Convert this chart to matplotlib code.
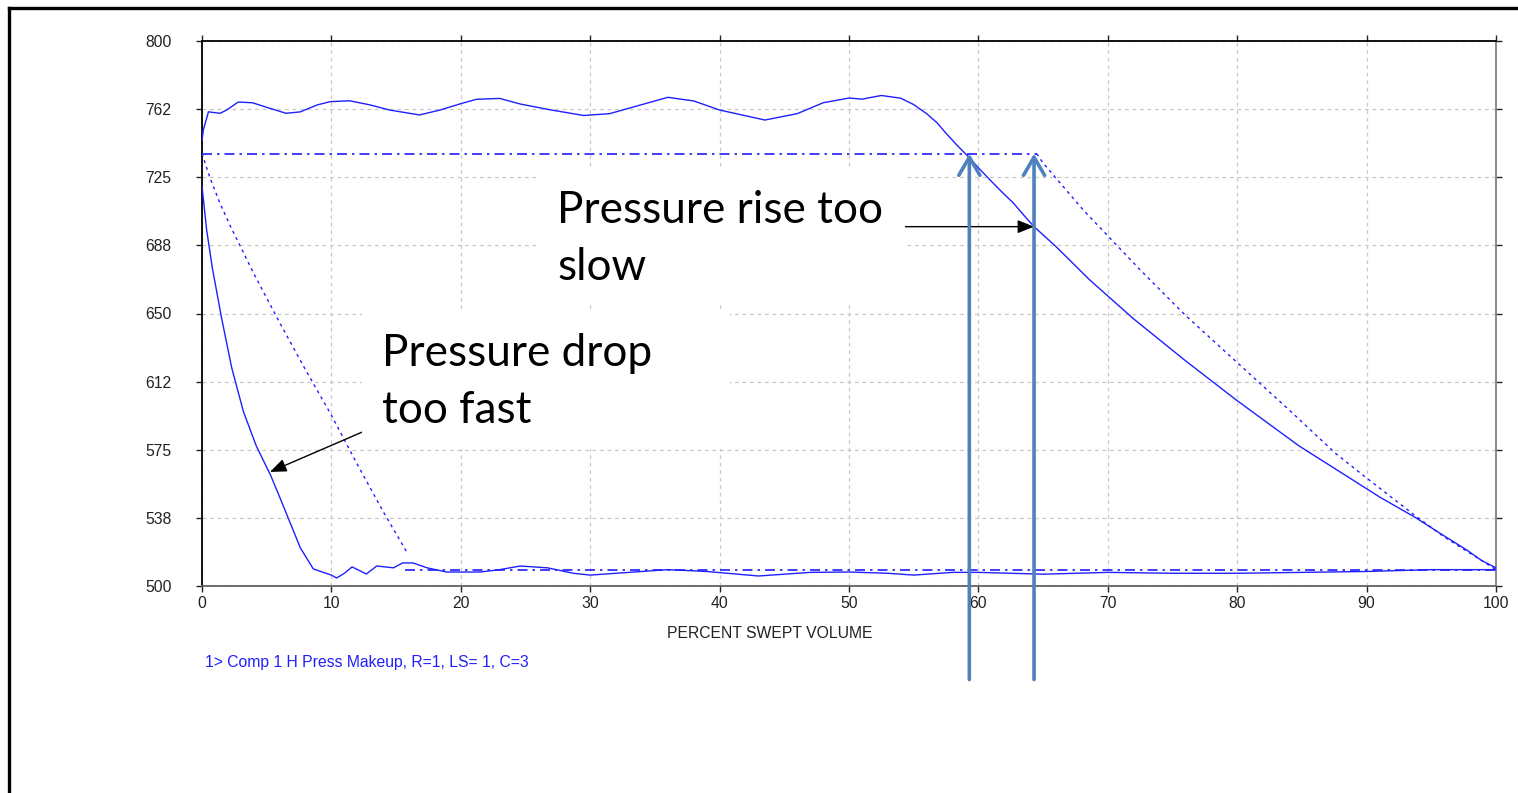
import matplotlib
matplotlib.use("Agg")
import matplotlib.pyplot as plt
from matplotlib.patches import Rectangle
from matplotlib.lines import Line2D

# ---------------- data ----------------
upper_x = [0, 0.1, 0.5, 1.4, 1.9, 2.8, 3.9, 5.0, 6.5, 7.6, 8.9, 9.9, 11.4, 13.0, 14.5,
           16.8, 18.4, 19.9, 21.2, 23.0, 24.6, 27.0, 29.5, 31.5, 33.5, 36.0, 38.0, 40.0,
           43.5, 46.0, 48.0, 50.0, 51.0, 52.5, 54.0, 55.0, 56.0, 56.8, 57.5, 58.3, 59.1,
           60.0, 60.9, 61.8, 62.7, 63.5, 64.3, 66.0, 68.6, 72.0, 76.0, 80.0, 84.8, 89.9,
           91.0, 93.7, 95.9, 97.7, 98.9, 100]
upper_y = [745, 751, 761, 760.2, 762, 766.4, 766, 763.5, 760.2, 761, 764.8, 766.6, 767.1,
           764.8, 762, 759.3, 762, 765.3, 767.9, 768.4, 765.3, 762, 759, 760, 764, 769, 767,
           762, 756.5, 760, 766, 768.6, 768, 770, 768.5, 765, 760, 755, 749.2, 743, 737.2,
           730.2, 723.5, 717, 710.8, 704.2, 697.8, 686.8, 668.5, 647, 624, 602, 577, 554,
           549, 538, 528, 520, 514, 510]

lower_x = [0, 0.36, 0.8, 1.5, 2.3, 3.2, 4.2, 5.3, 6.0, 6.8, 7.6, 8.6, 10.0, 10.4, 11.0,
           11.6, 12.7, 13.5, 14.8, 15.5, 16.3, 17.4, 18.9, 21.5, 23.0, 24.6, 26.7, 28.7,
           30.0, 33.0, 36.0, 39.0, 43.0, 47.0, 50.0, 53.0, 55.0, 58.0, 60.0, 65.0, 70.0,
           75.0, 80.0, 85.0, 90.0, 95.0, 100]
lower_y = [720, 696, 675, 648, 620, 596, 577, 561, 549, 535, 521, 509.4, 506, 504.4, 507,
           510.5, 506.6, 511, 510, 512.7, 512.7, 510, 507.7, 507.7, 509, 511, 510, 507,
           506, 507.5, 509, 508, 505.5, 507.5, 507.7, 507, 506, 507.5, 507.5, 506.5, 507.5,
           507, 507, 507.5, 508, 509, 509]

ideal_exp_x = [0, 0.6, 1.4, 2.2, 4.0, 6.0, 8.0, 10.0, 12.0, 14.0, 15.8]
ideal_exp_y = [738, 725, 710.5, 698, 672, 645, 619, 594, 567, 541, 519]

ideal_cmp_x = [64.5, 65.0, 68.1, 72.5, 76.0, 80.0, 84.0, 87.6, 89.9, 93.7, 96.0, 98.0, 100]
ideal_cmp_y = [738, 732.8, 707, 674, 649, 623, 597, 573, 560, 539, 527, 518, 509]

disch_x = [0, 64.5]
disch_y = [738, 738]
suct_x = [15.7, 100]
suct_y = [509, 509]

yticks = [500, 537.5, 575, 612.5, 650, 687.5, 725, 762.5, 800]
ytick_labels = ["500", "538", "575", "612", "650", "688", "725", "762", "800"]
xticks = [0, 10, 20, 30, 40, 50, 60, 70, 80, 90, 100]

# ---------------- figure ----------------
W, H = 1518, 793
fig = plt.figure(figsize=(W / 100, H / 100), dpi=100)
fig.patch.set_facecolor("white")

def fx(px):
    return px / W

def fy(py):
    return 1 - py / H

ax = fig.add_axes([fx(202), fy(586), fx(1496) - fx(202), fy(41) - fy(586)])
ax.set_xlim(0, 100)
ax.set_ylim(500, 800)

blue = "#1f1fff"
ax.plot(upper_x, upper_y, color=blue, lw=1.0, zorder=3)
ax.plot(lower_x, lower_y, color=blue, lw=1.0, zorder=3)
ax.plot(ideal_exp_x, ideal_exp_y, color=blue, lw=1.0, dashes=(2.2, 2.8), zorder=3)
ax.plot(ideal_cmp_x, ideal_cmp_y, color=blue, lw=1.0, dashes=(2.2, 2.8), zorder=3)
ax.plot(disch_x, disch_y, color=blue, lw=1.2, dashes=(6, 3, 1.5, 3), zorder=3)
ax.plot(suct_x, suct_y, color=blue, lw=1.2, dashes=(6, 3, 1.5, 3), zorder=3)

small = 11.3
ax.set_xticks(xticks)
ax.set_xticklabels([str(v) for v in xticks], fontsize=small, family="Liberation Sans", color="#222222")
ax.set_yticks(yticks)
ax.set_yticklabels(ytick_labels, fontsize=small, family="Liberation Sans", color="#222222")
ax.tick_params(axis="both", which="both", direction="out", length=4, width=1,
               top=True, right=True, colors="#222222")
ax.tick_params(axis="y", pad=18)
ax.tick_params(axis="x", pad=3)
ax.grid(True, color="#c8c8c8", lw=0.9, dashes=(3, 3))
ax.set_axisbelow(True)
ax.spines["left"].set_color("black")
ax.spines["top"].set_color("black")
ax.spines["right"].set_color("#808080")
ax.spines["bottom"].set_color("#606060")
for s in ax.spines.values():
    s.set_linewidth(1.3)

# axis label and legend text
fig.text(fx(770), fy(633), "PERCENT SWEPT VOLUME", ha="center", va="center",
         fontsize=small, family="Liberation Sans", color="#222222")
fig.text(fx(205), fy(663), "1> Comp 1 H Press Makeup, R=1, LS= 1, C=3", ha="left", va="center",
         fontsize=small, family="Liberation Sans", color="#2020ff")

# white boxes behind annotation text
fig.patches.append(Rectangle((fx(540), fy(304)), fx(905) - fx(540), fy(168) - fy(304),
                             transform=fig.transFigure, facecolor="white", edgecolor="none", zorder=5))
fig.patches.append(Rectangle((fx(362), fy(449)), fx(730) - fx(362), fy(312) - fy(449),
                             transform=fig.transFigure, facecolor="white", edgecolor="none", zorder=5))

txt_font = ["Lato", "DejaVu Sans"]
big = 31.8
fig.text(fx(557), fy(223), "Pressure rise too", ha="left", va="baseline",
         fontsize=big, family=txt_font, color="black", zorder=6)
fig.text(fx(557), fy(280), "slow", ha="left", va="baseline",
         fontsize=big, family=txt_font, color="black", zorder=6)
fig.text(fx(382), fy(366), "Pressure drop", ha="left", va="baseline",
         fontsize=big, family=txt_font, color="black", zorder=6)
fig.text(fx(382), fy(423), "too fast", ha="left", va="baseline",
         fontsize=big, family=txt_font, color="black", zorder=6)

# black pointer arrows
ax.annotate("", xy=(64.3, 697.8), xytext=(54.3, 697.8),
            arrowprops=dict(arrowstyle="-|>,head_length=0.5,head_width=0.2", color="black", lw=1.0,
                            mutation_scale=20, shrinkA=0, shrinkB=0), zorder=7)
ax.annotate("", xy=(5.25, 562.8), xytext=(12.4, 584.8),
            arrowprops=dict(arrowstyle="-|>,head_length=0.5,head_width=0.2", color="black", lw=1.0,
                            mutation_scale=20, shrinkA=0, shrinkB=0), zorder=7)

# blue vertical arrows
arrow_blue = "#4f81bd"
for xa in (59.3, 64.3):
    an = ax.annotate("", xy=(xa, 738), xytext=(xa, 448.5), annotation_clip=False,
                     arrowprops=dict(arrowstyle="->,head_length=0.65,head_width=0.38",
                                     mutation_scale=20,
                                     color=arrow_blue, lw=2.6, shrinkA=0, shrinkB=0))
    an.set_zorder(8)

# outer frame
fig.add_artist(Line2D([fx(9), fx(9)], [0, fy(8)], transform=fig.transFigure, color="black", lw=2.4))
fig.add_artist(Line2D([fx(9), 1], [fy(8), fy(8)], transform=fig.transFigure, color="black", lw=2.4))

fig.savefig("out.png", dpi=100, facecolor="white")
